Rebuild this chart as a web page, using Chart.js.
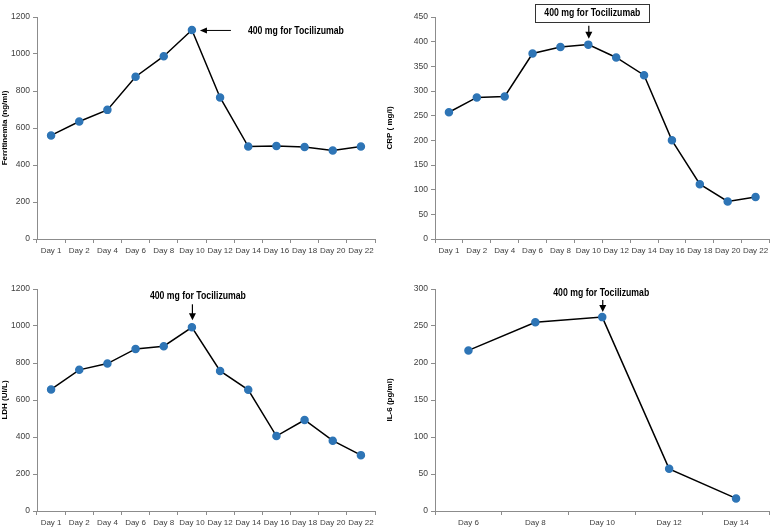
<!DOCTYPE html>
<html>
<head>
<meta charset="utf-8">
<script src="https://cdn.jsdelivr.net/npm/chart.js@4/dist/chart.umd.min.js"></script>
<style>
  body { margin: 0; background: #fff; }
  #wrap { position: relative; width: 775px; height: 529px; }
  canvas { position: absolute; }
</style>
</head>
<body>
<div id="wrap">
  <canvas id="ferritin" style="left:0;top:0"></canvas>
  <canvas id="crp" style="left:385px;top:0"></canvas>
  <canvas id="ldh" style="left:0;top:264px"></canvas>
  <canvas id="il6" style="left:385px;top:264px"></canvas>
</div>
<script>
const days = ["Day 1", "Day 2", "Day 4", "Day 6", "Day 8", "Day 10", "Day 12", "Day 14", "Day 16", "Day 18", "Day 20", "Day 22"];
const ferritin = [560, 635, 698, 877, 988, 1130, 765, 500, 503, 497, 478, 500];
const crp = [257, 287, 289, 376, 389, 394, 368, 332, 200, 111, 76, 85];
const ldh = [657, 763, 797, 876, 891, 993, 757, 655, 405, 492, 380, 302];
const il6Days = ["Day 6", "Day 8", "Day 10", "Day 12", "Day 14"];
const il6 = [217, 255, 262, 57, 17];
const noteText = "400 mg for Tocilizumab";

const FONT = "'Liberation Sans', Arial, sans-serif";

// writes text squeezed to a given width (the original uses a narrow font)
function narrowText(ctx, text, x, y, width, align) {
  const w = ctx.measureText(text).width;
  const k = Math.min(1, width / w);
  ctx.save();
  ctx.translate(x, y);
  ctx.scale(k, 1);
  ctx.textAlign = align;
  ctx.fillText(text, 0, 0);
  ctx.restore();
}

// draws the "400 mg" note with an arrow pointing at the Day 10 point
const notePlugin = {
  id: "note",
  afterDraw(chart, args, opts) {
    const ctx = chart.ctx;
    const pt = chart.getDatasetMeta(0).data[opts.index];
    const px = pt.x, py = pt.y;
    ctx.save();
    ctx.fillStyle = "#000";
    ctx.strokeStyle = "#000";
    ctx.lineWidth = 1;
    ctx.font = "bold 11px " + FONT;
    ctx.textBaseline = "middle";
    if (opts.mode === "left") {
      const x1 = px + 39, x2 = px + 8;
      ctx.beginPath();
      ctx.moveTo(x1, py + 0.5);
      ctx.lineTo(x2 + 5, py + 0.5);
      ctx.stroke();
      ctx.beginPath();
      ctx.moveTo(x2, py + 0.5);
      ctx.lineTo(x2 + 7, py - 2.5);
      ctx.lineTo(x2 + 7, py + 3.5);
      ctx.closePath();
      ctx.fill();
      narrowText(ctx, noteText, px + 56, py + 1, 96, "left");
    } else {
      const tx = px + opts.dx;
      const ty = py - opts.textUp;
      if (opts.box) {
        const w = 114, h = 18;
        ctx.strokeStyle = "#333";
        ctx.strokeRect(Math.round(tx - w / 2) + 0.5, Math.round(ty - h / 2) + 0.5, w, h);
      }
      narrowText(ctx, noteText, tx, ty, 96, "center");
      const a1 = py - opts.arrowFrom, a2 = py - opts.arrowTo;
      ctx.strokeStyle = "#000";
      ctx.lineWidth = 1.2;
      ctx.beginPath();
      ctx.moveTo(px + 0.5, a1);
      ctx.lineTo(px + 0.5, a2 - 5);
      ctx.stroke();
      ctx.beginPath();
      ctx.moveTo(px + 0.5, a2);
      ctx.lineTo(px - 3, a2 - 7);
      ctx.lineTo(px + 4, a2 - 7);
      ctx.closePath();
      ctx.fill();
    }
    ctx.restore();
  }
};

function makeChart(id, w, h, labels, values, yMax, yStep, yTitle, yWidth, pad, note) {
  const el = document.getElementById(id);
  el.width = w;
  el.height = h;
  el.style.width = w + "px";
  el.style.height = h + "px";
  return new Chart(el, {
    type: "line",
    data: {
      labels: labels,
      datasets: [{
        data: values,
        borderColor: "#000",
        borderWidth: 1.5,
        pointBackgroundColor: "#2e75b6",
        pointBorderColor: "#2e75b6",
        pointRadius: 3.5,
        tension: 0,
      }],
    },
    plugins: [notePlugin],
    options: {
      responsive: false,
      animation: false,
      layout: { padding: pad },
      plugins: {
        legend: { display: false },
        tooltip: { enabled: false },
        note: note,
      },
      scales: {
        x: {
          offset: true,
          afterFit: (s) => { s.height = pad.xh; },
          grid: { display: true, drawOnChartArea: false, offset: true, tickLength: 4, color: "#8c8c8c" },
          border: { color: "#8c8c8c" },
          ticks: { color: "#404040", font: { family: FONT, size: 8 }, padding: 3, maxRotation: 0, autoSkip: false },
        },
        y: {
          min: 0,
          max: yMax,
          afterFit: (s) => { s.width = yWidth; },
          grid: { display: true, drawOnChartArea: false, tickLength: 4, color: "#8c8c8c" },
          border: { color: "#8c8c8c" },
          ticks: { stepSize: yStep, color: "#404040", font: { family: FONT, size: 8.5 }, padding: 3, callback: (v) => String(v) },
          title: { display: true, text: yTitle, color: "#000", font: { family: FONT, size: 8, weight: "bold" }, padding: { top: 0, bottom: 2 } },
        },
      },
    },
  });
}

makeChart("ferritin", 385, 264, days, ferritin, 1200, 200, "Ferritinemia (ng/ml)", 37,
  { top: 17, right: 10, left: 0, bottom: 0, xh: 25 }, { index: 5, mode: "left" });
makeChart("crp", 390, 264, days, crp, 450, 50, "CRP ( mg/l)", 50,
  { top: 17, right: 2, left: 0, bottom: 0, xh: 25 }, { index: 5, mode: "down", box: true, dx: 4, textUp: 32, arrowFrom: 19, arrowTo: 6 });
makeChart("ldh", 385, 265, days, ldh, 1200, 200, "LDH (UI/L)", 37,
  { top: 25, right: 10, left: 0, bottom: 0, xh: 18 }, { index: 5, mode: "down", box: false, dx: 6, textUp: 31, arrowFrom: 23, arrowTo: 7 });
makeChart("il6", 390, 265, il6Days, il6, 300, 50, "IL-6 (pg/ml)", 50,
  { top: 25, right: 2, left: 0, bottom: 0, xh: 18 }, { index: 2, mode: "down", box: false, dx: -1, textUp: 24, arrowFrom: 17, arrowTo: 5 });
</script>
</body>
</html>
